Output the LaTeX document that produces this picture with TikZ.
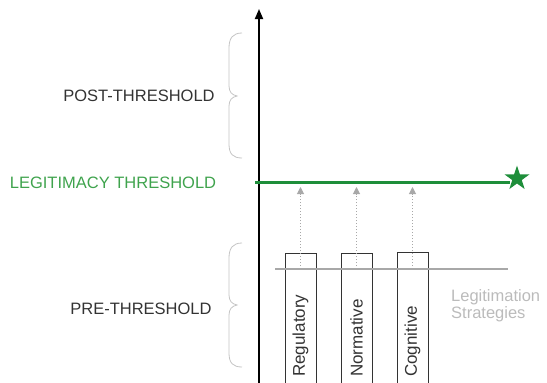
\documentclass[tikz,border=0pt]{standalone}
\usepackage{fontspec}
\setmainfont{Liberation Sans}
\usetikzlibrary{arrows.meta,shapes.geometric}
\definecolor{txtdark}{HTML}{333333}
\definecolor{txtgreen}{HTML}{3FA34D}
\definecolor{linegreen}{HTML}{1E8E3A}
\definecolor{bracegray}{HTML}{C4C4C4}
\definecolor{midgray}{HTML}{A8A8A8}
\definecolor{lightgray}{HTML}{BBBBBB}
\tikzset{
  label/.style={font=\fontsize{16.5}{18}\selectfont, text=txtdark, inner sep=0pt},
  brace/.style={draw=bracegray, line width=0.8pt},
  stratbox/.style={draw=txtdark, line width=0.8pt, minimum width=31pt, minimum height=150pt, inner sep=0pt, anchor=north},
  stratlabel/.style={font=\fontsize{17}{19}\selectfont, text=txtdark, rotate=90, anchor=west, inner sep=0pt},
  influence/.style={draw=midgray, line width=1pt, dotted, -{Triangle[width=7pt,length=7pt,fill=midgray]}},
}
\begin{document}
\begin{tikzpicture}[x=1pt,y=-1pt]
\useasboundingbox (0,0) rectangle (547,383);
\clip (0,0) rectangle (547,383);

% vertical axis
\coordinate (axbot) at (259,390);
\coordinate (axtop) at (259,9);
\draw[line width=1.8pt, -{Triangle[width=8pt,length=10pt]}] (axbot) -- (axtop);

% region labels
\node[label] (post) at (139,96) {POST-THRESHOLD};
\node[label] (pre) at (141,309) {PRE-THRESHOLD};
\node[label, text=txtgreen] (legit) at (113,183) {LEGITIMACY THRESHOLD};

% braces
\draw[brace] (242,33) .. controls (233,33) and (229,38) .. (229,48) -- (229,86)
  .. controls (229,92) and (232,95) .. (237,96) .. controls (232,97) and (229,100) .. (229,106)
  -- (229,144) .. controls (229,154) and (233,158) .. (242,158);
\draw[brace] (242,243) .. controls (233,243) and (229,248) .. (229,258) -- (229,295)
  .. controls (229,301) and (232,304) .. (237,305) .. controls (232,306) and (229,309) .. (229,315)
  -- (229,353) .. controls (229,363) and (233,367) .. (242,367);

% strategy boxes
\node[stratbox] (reg) at (300.5,253) {};
\node[stratbox] (nor) at (356.5,253) {};
\node[stratbox] (cog) at (412.5,252) {};
\node[stratlabel] (regt) at (300.5,377) {Regulatory};
\node[stratlabel] (nort) at (356.5,377) {Normative};
\node[stratlabel] (cogt) at (412.5,377) {Cognitive};

% strategies baseline
\coordinate (sl) at (275,269);
\coordinate (sr) at (508,269);
\draw[midgray, line width=2pt] (sl) -- (sr);
\node[font=\fontsize{16.5}{17}\selectfont, text=lightgray, align=left, anchor=west, inner sep=0pt] (strat) at (451,306) {Legitimation\\Strategies};

% threshold line and star
\coordinate (thl) at (255,182.5);
\coordinate (thr) at (510,182.5);
\draw[linegreen, line width=2.6pt] (thl) -- (thr);
\node[star, star points=5, star point ratio=2.6, minimum size=26pt, inner sep=0pt, fill=linegreen] (goal) at (517,178.5) {};

% influence arrows
\coordinate (ra) at (300.5,269); \coordinate (rb) at (300.5,187);
\coordinate (na) at (356.5,269); \coordinate (nb) at (356.5,187);
\coordinate (ca) at (412.5,269); \coordinate (cb) at (412.5,187);
\draw[influence] (ra) -- (rb);
\draw[influence] (na) -- (nb);
\draw[influence] (ca) -- (cb);
\end{tikzpicture}
\end{document}
